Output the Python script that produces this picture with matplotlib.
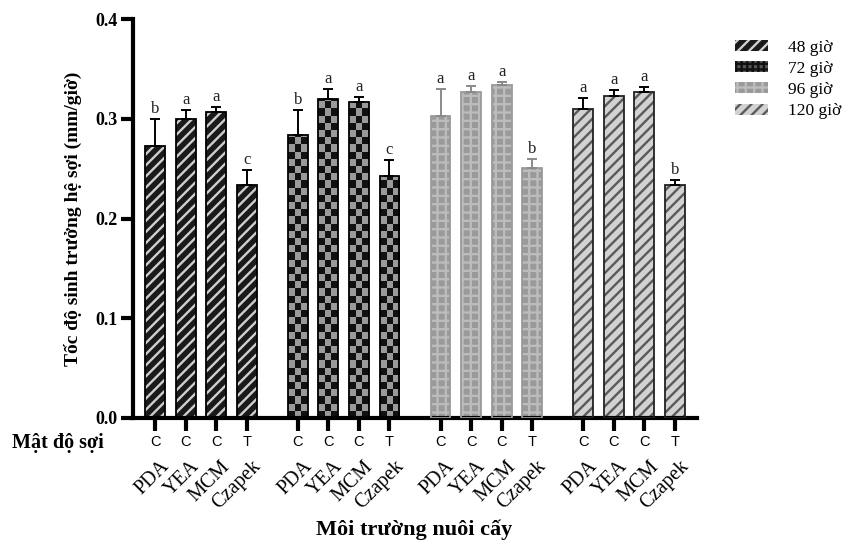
import numpy as np
import matplotlib
matplotlib.use("Agg")
import matplotlib.pyplot as plt
from matplotlib.patches import Patch, Rectangle
from matplotlib.transforms import blended_transform_factory

# ---- data ----
media = ["PDA", "YEA", "MCM", "Czapek"]
density = ["C", "C", "C", "T"]
times = ["48 giờ", "72 giờ", "96 giờ", "120 giờ"]

rate_48 = [0.273, 0.300, 0.307, 0.234]
rate_72 = [0.284, 0.320, 0.317, 0.243]
rate_96 = [0.303, 0.327, 0.334, 0.251]
rate_120 = [0.310, 0.323, 0.327, 0.234]

err_48 = [0.027, 0.009, 0.005, 0.015]
err_72 = [0.025, 0.010, 0.005, 0.016]
err_96 = [0.027, 0.006, 0.003, 0.009]
err_120 = [0.011, 0.006, 0.005, 0.005]

letters_48 = ["b", "a", "a", "c"]
letters_72 = ["b", "a", "a", "c"]
letters_96 = ["a", "a", "a", "b"]
letters_120 = ["a", "a", "a", "b"]

rates = [rate_48, rate_72, rate_96, rate_120]
errs = [err_48, err_72, err_96, err_120]
letters = [letters_48, letters_72, letters_96, letters_120]

# ---- style ----
SERIF = ["Liberation Serif", "DejaVu Serif"]
SANS = ["Liberation Sans", "DejaVu Sans"]
plt.rcParams["hatch.linewidth"] = 1.7

fig = plt.figure(figsize=(8.55, 5.48), dpi=100)
ax = fig.add_axes([133 / 855, 1 - 418 / 548, (697 - 133) / 855, 399 / 548])

group_step = 4.67
width = 0.65
positions = [[g * group_step + i for i in range(4)] for g in range(4)]

# face / hatch settings per time point
styles = [
    dict(face="#1a1a1a", hatch="///", hcolor="#cfcfcf", edge="black", ecolor="black"),
    dict(face=None, hatch=None, hcolor=None, edge="black", ecolor="black"),
    dict(face="#9a9a9a", hatch="++", hcolor="#bcbcbc", edge="#9a9a9a", ecolor="#8a8a8a"),
    dict(face="#d2d2d2", hatch="///", hcolor="#5a5a5a", edge="#222222", ecolor="black"),
]

checker_cmap = matplotlib.colors.ListedColormap(["#111111", "#9a9a9a"])
cell = 0.0072

for g in range(4):
    st = styles[g]
    xs = positions[g]
    vals = rates[g]
    if st["face"] is not None:
        ax.bar(xs, vals, width=width, color=st["face"], hatch=st["hatch"],
               edgecolor=st["hcolor"], linewidth=0, zorder=2)
    else:
        # checkerboard fill, clipped to each bar
        for x, v in zip(xs, vals):
            rect = Rectangle((x - width / 2, 0), width, v, transform=ax.transData)
            nrows = int(np.ceil(v / cell))
            pat = (np.add.outer(np.arange(nrows), np.arange(3)) % 2)[::-1]
            im = ax.imshow(pat, extent=[x - width / 2, x + width / 2, 0, nrows * cell],
                           aspect="auto", cmap=checker_cmap, interpolation="nearest", zorder=2)
            im.set_clip_path(rect)
    ax.bar(xs, vals, width=width, fill=False, edgecolor=st["edge"], linewidth=1.3, zorder=3)
    ax.errorbar(xs, vals, yerr=[np.zeros(4), errs[g]], fmt="none", ecolor=st["ecolor"],
                elinewidth=1.4, capsize=3.8, capthick=1.4, zorder=4)
    for x, v, e, lt in zip(xs, vals, errs[g], letters[g]):
        ax.text(x, v + e + 0.002, lt, ha="center", va="bottom", fontsize=12,
                family=SERIF, color="#222222", zorder=5)

# ---- axes ----
ax.set_xlim(-0.72, 3 * group_step + 3 + 0.72)
ax.set_ylim(0, 0.4)
ax.set_yticks([0.0, 0.1, 0.2, 0.3, 0.4])
ax.set_yticklabels(["0.0", "0.1", "0.2", "0.3", "0.4"], family=SERIF,
                   fontweight="bold", fontsize=13)
all_x = [x for grp in positions for x in grp]
ax.set_xticks(all_x)
ax.set_xticklabels(density * 4, family=SANS, fontsize=10.5)
ax.tick_params(axis="x", length=9, width=3, color="black", pad=3)
ax.tick_params(axis="y", length=9, width=3, color="black", pad=2)
for s in ["top", "right"]:
    ax.spines[s].set_visible(False)
for s in ["left", "bottom"]:
    ax.spines[s].set_linewidth(3)

ax.set_ylabel("Tốc độ sinh trưởng hệ sợi (mm/giờ)", family=SERIF, fontweight="bold",
              fontsize=14, labelpad=10)

trans = blended_transform_factory(ax.transData, fig.transFigure)
for x, name in zip(all_x, media * 4):
    ax.text(x + 0.15, 1 - 457 / 548, name, rotation=45, rotation_mode="anchor",
            ha="right", va="top", transform=trans, family=SERIF, fontsize=14.5)

fig.text(12 / 855, 1 - 443 / 548, "Mật độ sợi", family=SERIF, fontweight="bold",
         fontsize=14.5, ha="left", va="center")
fig.text(414 / 855, 1 - 530 / 548, "Môi trường nuôi cấy", family=SERIF,
         fontweight="bold", fontsize=16, ha="center", va="center")

# ---- legend ----
handles = [
    Patch(facecolor="#1a1a1a", hatch="///", edgecolor="#cfcfcf", linewidth=0),
    Patch(facecolor="#555555", hatch="+++", edgecolor="#111111", linewidth=0),
    Patch(facecolor="#9a9a9a", hatch="++", edgecolor="#bcbcbc", linewidth=0),
    Patch(facecolor="#d2d2d2", hatch="///", edgecolor="#5a5a5a", linewidth=0),
]
fig.legend(handles, times, loc="upper left", bbox_to_anchor=(719 / 855, 1 - 24 / 548),
           frameon=False, prop=dict(family=SERIF, size=12.5), handlelength=1.9,
           handleheight=0.6, labelspacing=0.3, handletextpad=1.15)

fig.savefig("out.png", dpi=100)
